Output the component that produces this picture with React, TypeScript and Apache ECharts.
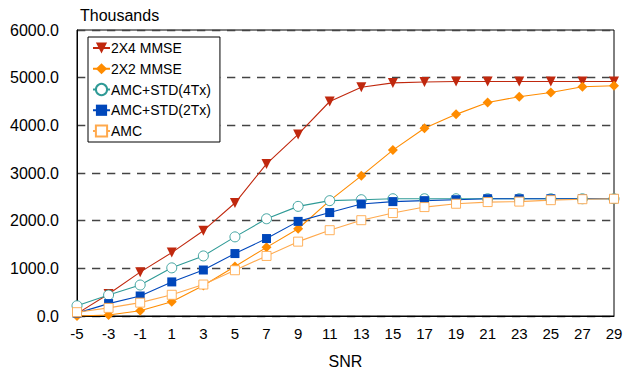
import React, { useEffect, useRef } from "react";
import * as echarts from "echarts";

const snr = ["-5", "-3", "-1", "1", "3", "5", "7", "9", "11", "13", "15", "17", "19", "21", "23", "25", "27", "29"];
const mmse2x4 = [50, 460, 920, 1330, 1790, 2370, 3190, 3810, 4500, 4800, 4890, 4910, 4920, 4920, 4920, 4920, 4920, 4920];
const mmse2x2 = [0, 20, 110, 300, 640, 1040, 1440, 1830, 2420, 2940, 3480, 3940, 4230, 4480, 4600, 4690, 4810, 4830];
const amcStd4 = [215, 440, 650, 1010, 1260, 1660, 2040, 2300, 2420, 2440, 2460, 2460, 2460, 2460, 2460, 2460, 2460, 2460];
const amcStd2 = [60, 260, 420, 715, 965, 1310, 1625, 1985, 2170, 2350, 2400, 2420, 2440, 2460, 2460, 2460, 2460, 2460];
const amc = [80, 170, 280, 445, 660, 960, 1260, 1560, 1800, 2010, 2160, 2285, 2355, 2390, 2400, 2430, 2450, 2460];

const FONT = "Liberation Sans, Arial, sans-serif";

export default function App() {
  const ref = useRef<HTMLDivElement>(null);
  useEffect(() => {
    if (!ref.current) return;
    const chart = echarts.init(ref.current, undefined, { renderer: "svg" });
    const mk = (name: string, data: number[], color: string, symbol: string, opts: any = {}) => ({
      name,
      type: "line",
      data,
      symbol,
      symbolSize: opts.size ?? 10,
      symbolRotate: opts.rotate ?? 0,
      showSymbol: true,
      lineStyle: { color, width: 1.1 },
      itemStyle: opts.hollow
        ? { color: "#fff", borderColor: color, borderWidth: 0.9 }
        : { color, borderColor: color, borderWidth: 0 },
      color,
      emphasis: { disabled: true },
    });
    chart.setOption({
      animation: false,
      textStyle: { fontFamily: FONT },
      grid: {
        left: 77,
        right: 9,
        top: 30,
        bottom: 52,
        containLabel: false,
        outerBoundsMode: "none",
        show: true,
        borderColor: "#000",
        borderWidth: 1,
        backgroundColor: "transparent",
      },
      legend: {
        orient: "vertical",
        left: 88,
        top: 37,
        backgroundColor: "#fff",
        borderColor: "#000",
        borderWidth: 1,
        borderRadius: 0,
        padding: [4, 9, 4, 4],
        itemGap: 6.75,
        itemWidth: 17,
        itemHeight: 14,
        textStyle: { fontFamily: FONT, fontSize: 14, color: "#000", padding: [0, 0, 0, -4] },
        data: ["2X4 MMSE", "2X2 MMSE", "AMC+STD(4Tx)", "AMC+STD(2Tx)", "AMC"],
      },
      xAxis: {
        type: "category",
        data: snr,
        boundaryGap: false,
        name: "SNR",
        nameLocation: "middle",
        nameGap: 37,
        nameTextStyle: { fontFamily: FONT, fontSize: 16, color: "#000" },
        axisLine: { lineStyle: { color: "#000", width: 1 } },
        axisTick: { show: false },
        axisLabel: { fontFamily: FONT, fontSize: 15, color: "#000", margin: 10, interval: 0 },
        splitLine: { show: false },
      },
      yAxis: {
        type: "value",
        min: 0,
        max: 6000,
        interval: 1000,
        name: "Thousands",
        nameLocation: "end",
        nameGap: 7,
        nameTextStyle: {
          fontFamily: FONT,
          fontSize: 16,
          color: "#000",
          align: "left",
          verticalAlign: "bottom",
          padding: [0, 0, 0, 3],
        },
        axisLine: { show: true, lineStyle: { color: "#000", width: 1 } },
        axisTick: { show: false },
        axisLabel: {
          fontFamily: FONT,
          fontSize: 16,
          color: "#000",
          margin: 18,
          formatter: (v: number) => v.toFixed(1),
        },
        splitLine: { show: true, lineStyle: { color: "#444", type: [8.3, 6.7], width: 1.3 } },
      },
      series: [
        mk("2X4 MMSE", mmse2x4, "#C0280E", "triangle", { rotate: 180, size: 10 }),
        mk("2X2 MMSE", mmse2x2, "#FF8C00", "diamond", { size: 10 }),
        mk("AMC+STD(4Tx)", amcStd4, "#2E9A96", "circle", { hollow: true, size: 10 }),
        mk("AMC+STD(2Tx)", amcStd2, "#0047BB", "rect", { size: 9 }),
        mk("AMC", amc, "#FFA94D", "rect", { hollow: true, size: 9 }),
      ],
    });
    return () => chart.dispose();
  }, []);
  return <div ref={ref} style={{ width: 623, height: 368, position: "absolute", left: 0, top: 0 }} />;
}
